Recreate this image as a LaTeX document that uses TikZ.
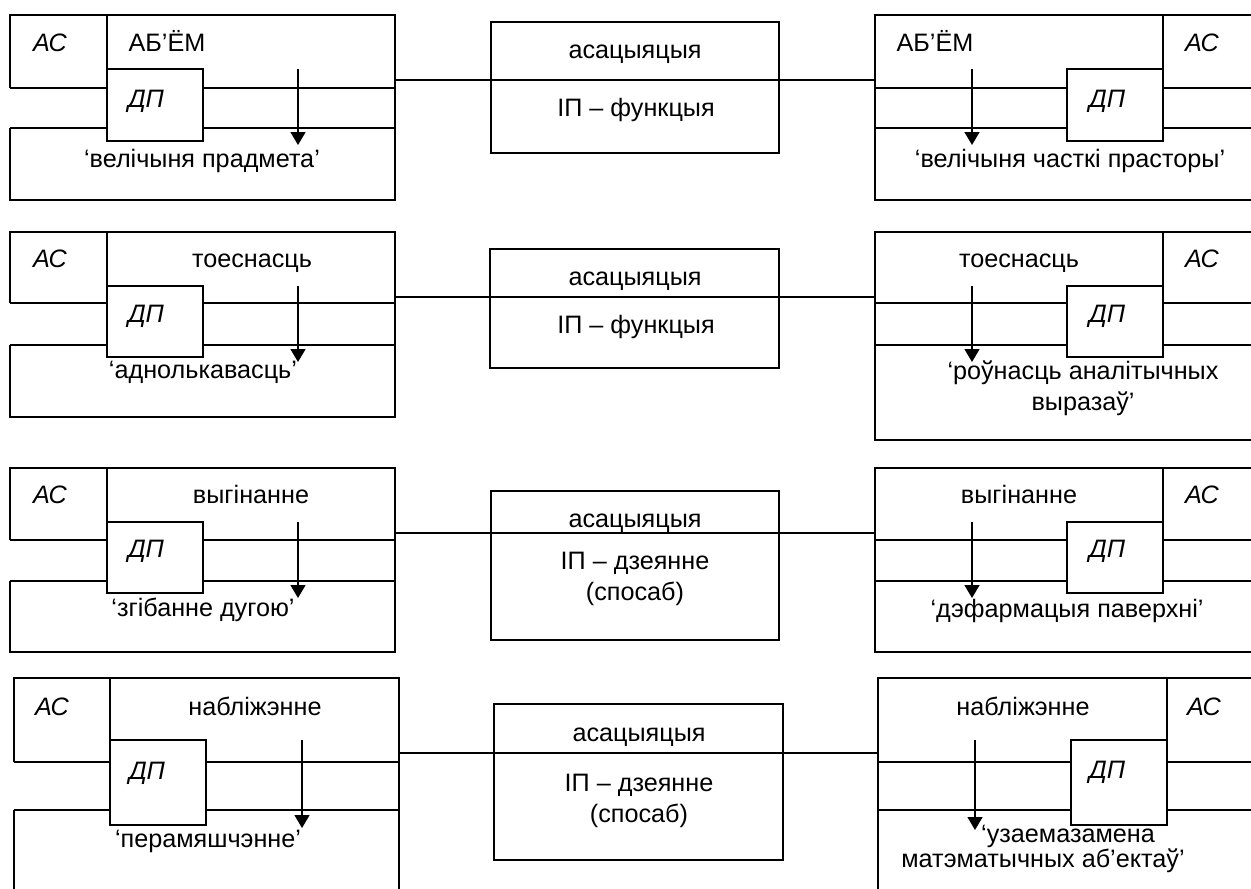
\documentclass[tikz,border=0pt]{standalone}
\usepackage{fontspec}
\setmainfont{Liberation Sans}
\usetikzlibrary{arrows.meta}
\begin{document}
\begin{tikzpicture}[x=0.5pt,y=-0.5pt,
 box/.style={draw=black,line width=0.7pt},
 conn/.style={draw=black,line width=0.55pt},
 arr/.style={draw=black,line width=0.7pt,-{Triangle[width=7.5pt,length=6.5pt]}},
 txt/.style={inner sep=0pt,anchor=base,font=\fontsize{12.6}{15.5}\selectfont},
 itx/.style={txt,font=\fontsize{12.6}{15.5}\selectfont\itshape},
 lab/.style={txt,align=center}]
\useasboundingbox (0,0) rectangle (1251,888);
\clip (0,0) rectangle (1251,888);

% ================= ROW 1 =================
% left block
\draw[box] (10,88) -- (10,15) -- (395,15) -- (395,200) -- (10,200) -- (10,128);
\draw[box] (10,88) -- (395,88);
\draw[box] (10,128) -- (395,128);
\draw[box] (107,15) -- (107,69);
\draw[box,fill=white] (107,69) rectangle (203,141);
\node[itx] (l1ac) at (50,52) {АС};
\node[txt] (l1t) at (167,52) {АБ’ЁМ};
\node[itx] (l1dp) at (146,107) {ДП};
\node[txt] (l1lab) at (202,167) {‘велічыня прадмета’};
\coordinate (l1s) at (298,69); \coordinate (l1e) at (298,145);
\draw[arr] (l1s) -- (l1e);
% middle
\draw[box] (491,22) rectangle (779,153);
\node[txt] (m1a) at (635,59) {асацыяцыя};
\node[txt] (m1b) at (636,117) {ІП – функцыя};
% right block
\draw[box] (1265,15) -- (875,15) -- (875,200) -- (1265,200);
\draw[box] (875,88) -- (1265,88);
\draw[box] (875,128) -- (1265,128);
\draw[box] (1163,15) -- (1163,69);
\draw[box,fill=white] (1067,69) rectangle (1163,141);
\node[txt] (r1t) at (935,52) {АБ’ЁМ};
\node[itx] (r1ac) at (1202,52) {АС};
\node[itx] (r1dp) at (1107,107) {ДП};
\node[txt] (r1lab) at (1070,167) {‘велічыня часткі прасторы’};
\coordinate (r1s) at (972,69); \coordinate (r1e) at (972,145);
\draw[arr] (r1s) -- (r1e);
% connector
\coordinate (c1l) at (395,80); \coordinate (c1r) at (875,80);
\draw[conn] (c1l) -- (c1r);

% ================= ROW 2 =================
\draw[box] (10,303) -- (10,232) -- (395,232) -- (395,417) -- (10,417) -- (10,345);
\draw[box] (10,303) -- (395,303);
\draw[box] (10,345) -- (395,345);
\draw[box] (107,232) -- (107,286);
\draw[box,fill=white] (107,286) rectangle (203,357);
\node[itx] (l2ac) at (50,267) {АС};
\node[txt] (l2t) at (252,267) {тоеснасць};
\node[itx] (l2dp) at (146,322) {ДП};
\node[txt] (l2lab) at (203,378) {‘аднолькавасць’};
\coordinate (l2s) at (298,286); \coordinate (l2e) at (298,362);
\draw[arr] (l2s) -- (l2e);
\draw[box] (490,249) rectangle (779,368);
\node[txt] (m2a) at (635,285) {асацыяцыя};
\node[txt] (m2b) at (636,333) {ІП – функцыя};
\draw[box] (1265,232) -- (875,232) -- (875,440) -- (1265,440);
\draw[box] (875,303) -- (1265,303);
\draw[box] (875,345) -- (1265,345);
\draw[box] (1163,232) -- (1163,286);
\draw[box,fill=white] (1067,286) rectangle (1163,357);
\node[txt] (r2t) at (1019,267) {тоеснасць};
\node[itx] (r2ac) at (1202,267) {АС};
\node[itx] (r2dp) at (1107,322) {ДП};
\node[lab] (r2lab) at (1083,410) {‘роўнасць аналітычных\\выразаў’};
\coordinate (r2s) at (972,286); \coordinate (r2e) at (972,362);
\draw[arr] (r2s) -- (r2e);
\coordinate (c2l) at (395,297); \coordinate (c2r) at (875,297);
\draw[conn] (c2l) -- (c2r);

% ================= ROW 3 =================
\draw[box] (10,540) -- (10,468) -- (395,468) -- (395,652) -- (10,652) -- (10,581);
\draw[box] (10,540) -- (395,540);
\draw[box] (10,581) -- (395,581);
\draw[box] (107,468) -- (107,522);
\draw[box,fill=white] (107,522) rectangle (203,593);
\node[itx] (l3ac) at (50,503) {АС};
\node[txt] (l3t) at (251,503) {выгінанне};
\node[itx] (l3dp) at (146,557) {ДП};
\node[txt] (l3lab) at (203,616) {‘згібанне дугою’};
\coordinate (l3s) at (298,522); \coordinate (l3e) at (298,598);
\draw[arr] (l3s) -- (l3e);
\draw[box] (491,491) rectangle (779,640);
\node[txt] (m3a) at (635,527) {асацыяцыя};
\node[lab] (m3b) at (635,600) {ІП – дзеянне\\(спосаб)};
\draw[box] (1265,468) -- (875,468) -- (875,652) -- (1265,652);
\draw[box] (875,540) -- (1265,540);
\draw[box] (875,581) -- (1265,581);
\draw[box] (1163,468) -- (1163,522);
\draw[box,fill=white] (1067,522) rectangle (1163,593);
\node[txt] (r3t) at (1019,503) {выгінанне};
\node[itx] (r3ac) at (1202,503) {АС};
\node[itx] (r3dp) at (1107,557) {ДП};
\node[txt] (r3lab) at (1067,617) {‘дэфармацыя паверхні’};
\coordinate (r3s) at (972,522); \coordinate (r3e) at (972,598);
\draw[arr] (r3s) -- (r3e);
\coordinate (c3l) at (395,533); \coordinate (c3r) at (875,533);
\draw[conn] (c3l) -- (c3r);

% ================= ROW 4 =================
\draw[box] (14,762) -- (14,678) -- (399,678) -- (399,900);
\draw[box] (14,810) -- (14,900);
\draw[box] (14,762) -- (399,762);
\draw[box] (14,810) -- (399,810);
\draw[box] (110,678) -- (110,740);
\draw[box,fill=white] (110,740) rectangle (206,825);
\node[itx] (l4ac) at (52,715) {АС};
\node[txt] (l4t) at (255,715) {набліжэнне};
\node[itx] (l4dp) at (147,779) {ДП};
\node[txt] (l4lab) at (208,847) {‘перамяшчэнне’};
\coordinate (l4s) at (302,740); \coordinate (l4e) at (302,828);
\draw[arr] (l4s) -- (l4e);
\draw[box] (494,704) rectangle (783,860);
\node[txt] (m4a) at (639,741) {асацыяцыя};
\node[lab] (m4b) at (639,822) {ІП – дзеянне\\(спосаб)};
\draw[box] (1265,678) -- (878,678) -- (878,900);
\draw[box] (878,762) -- (1265,762);
\draw[box] (878,810) -- (1265,810);
\draw[box] (1167,678) -- (1167,740);
\draw[box,fill=white] (1071,740) rectangle (1167,825);
\node[txt] (r4t) at (1023,715) {набліжэнне};
\node[itx] (r4ac) at (1204,715) {АС};
\node[itx] (r4dp) at (1107,778) {ДП};
\node[lab] (r4lab) at (1043,867) {\hspace*{25pt}‘узаемазамена\\[-3pt]матэматычных аб’ектаў’};
\coordinate (r4s) at (975,740); \coordinate (r4e) at (975,830);
\draw[arr] (r4s) -- (r4e);
\coordinate (c4l) at (399,753); \coordinate (c4r) at (878,753);
\draw[conn] (c4l) -- (c4r);
\end{tikzpicture}
\end{document}
